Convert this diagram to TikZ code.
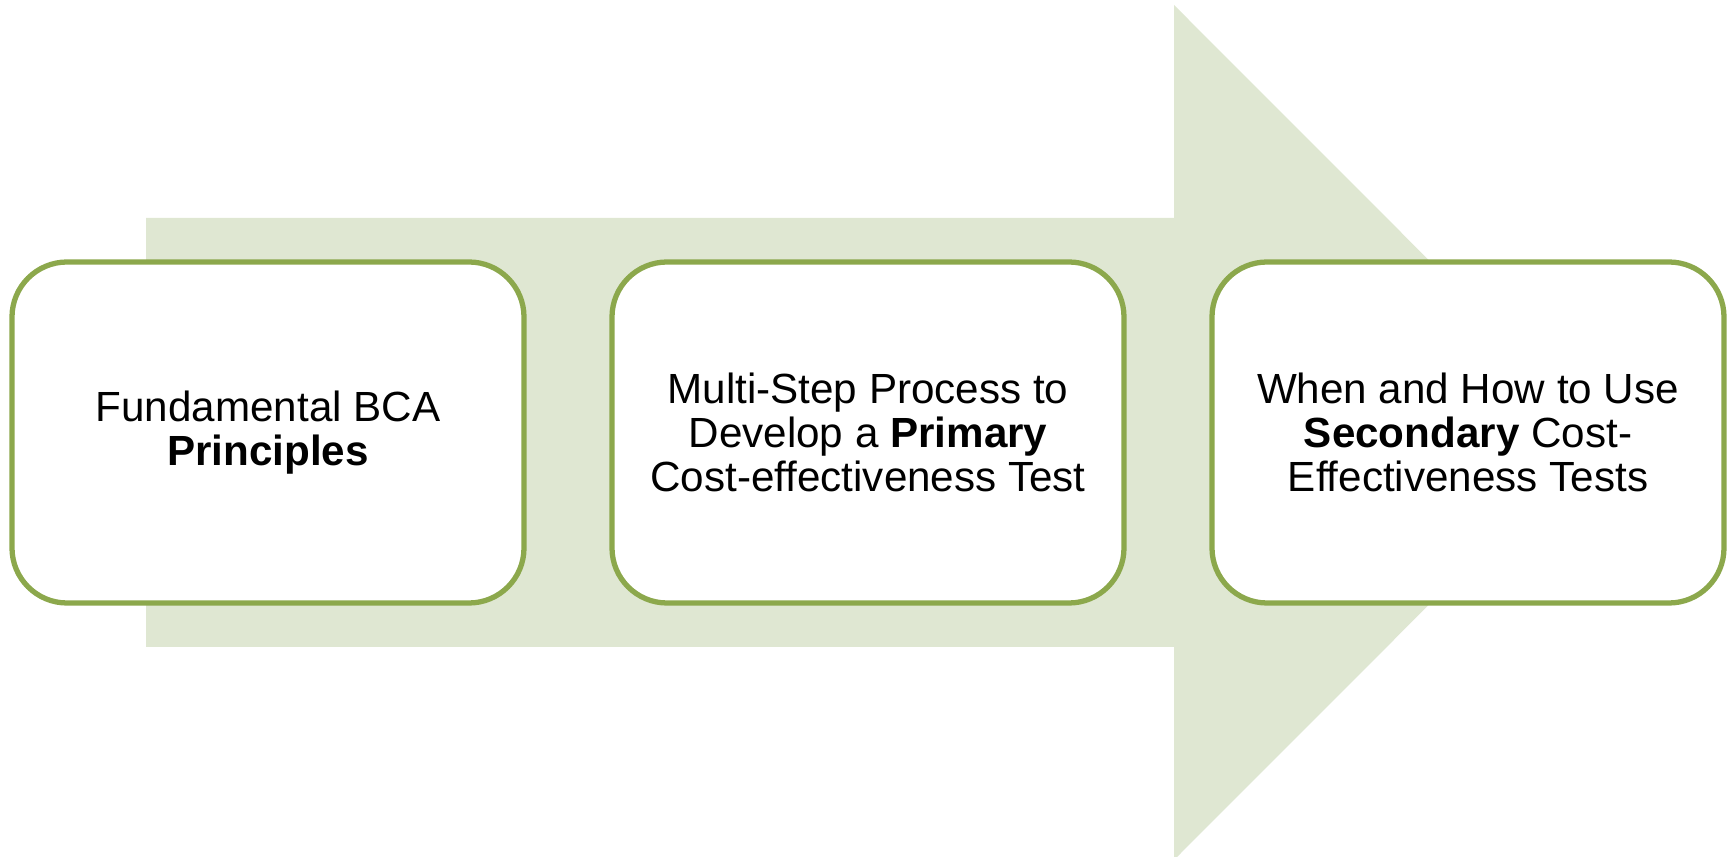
\documentclass[tikz,border=0pt]{standalone}
\usepackage{fontspec}
\setmainfont{Liberation Sans}
\usetikzlibrary{positioning}
\definecolor{arrowfill}{HTML}{DFE7D2}
\definecolor{boxline}{HTML}{8CA84C}

\begin{document}
\begin{tikzpicture}[
  stage/.style={draw=boxline,line width=1.5pt,fill=white,rounded corners=0.55cm,
    minimum width=5.12cm,minimum height=3.41cm,outer sep=0pt,align=center,
    font=\fontsize{12}{12.5}\selectfont}]
\useasboundingbox (0,0) rectangle (17.34,8.57);

%% big background arrow
\fill[arrowfill] (1.46,6.39) -- (11.74,6.39) -- (11.74,8.52) -- (16.01,4.245)
  -- (11.74,-0.03) -- (11.74,2.10) -- (1.46,2.10) -- cycle;

%% three stages
\node[stage] (principles) at (2.68,4.245) {Fundamental BCA\\\textbf{Principles}};
\node[stage,right=0.88cm of principles] (primary)
  {Multi-Step Process to\\Develop a \textbf{Primary}\\Cost-effectiveness Test};
\node[stage,right=0.88cm of primary] (secondary)
  {When and How to Use\\\textbf{Secondary} Cost-\\Effectiveness Tests};
\end{tikzpicture}
\end{document}
